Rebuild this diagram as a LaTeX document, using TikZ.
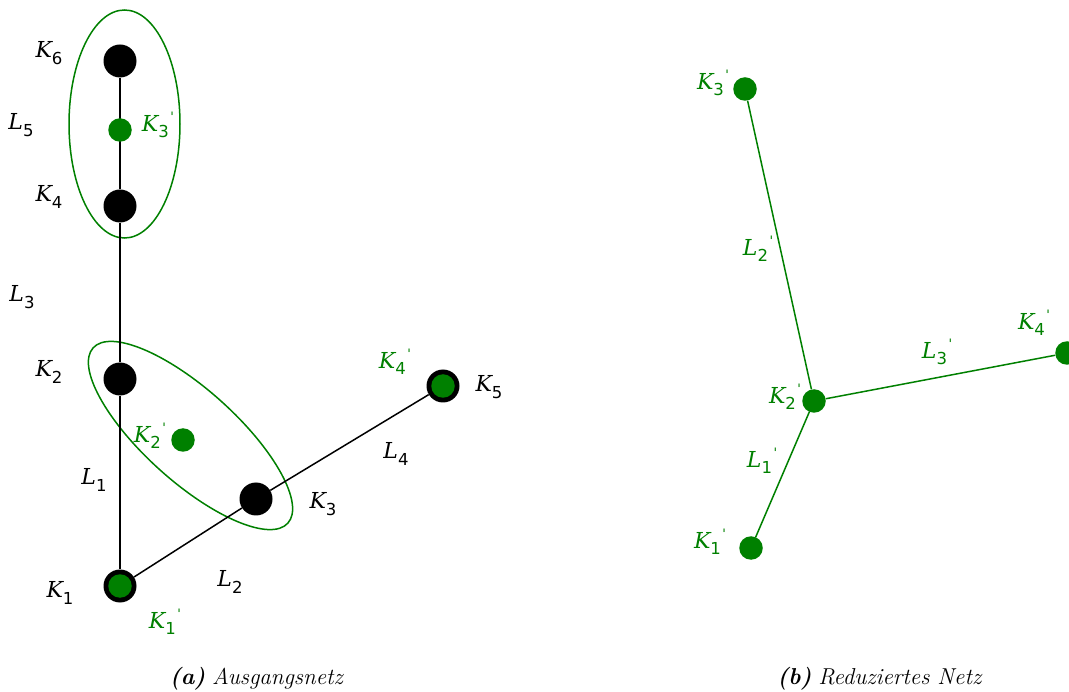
\documentclass[tikz,border=0pt]{standalone}
\usepackage{fontspec}
\newfontfamily\dvs{DejaVu Sans}
\newfontfamily\dvserif{DejaVu Serif}
\definecolor{mplgreen}{HTML}{008000}
\newcommand\lbl[2]{{\dvserif\fontsize{22}{22}\selectfont\itshape #1}\raisebox{-6.5pt}{\dvs\fontsize{16.5}{16.5}\selectfont #2}}
\newcommand\lblp[2]{{\dvserif\fontsize{22}{22}\selectfont\itshape #1}\raisebox{-6.5pt}{\dvs\fontsize{16.5}{16.5}\selectfont #2}\kern1.5pt\raisebox{10pt}{\dvs\fontsize{13}{13}\selectfont '}}
\begin{document}
\begin{tikzpicture}[x=1pt,y=-1pt,
  bigdot/.style={circle,fill=black,inner sep=0pt,minimum size=33pt},
  gdot/.style={circle,fill=mplgreen,inner sep=0pt,minimum size=23.5pt},
  blkline/.style={line width=1.5pt,black},
  gline/.style={line width=1.5pt,mplgreen},
  grp/.style={line width=1.5pt,mplgreen},
  lab/.style={inner sep=0pt},
  glab/.style={lab,text=mplgreen},
  captext/.style={inner sep=0pt,font=\fontsize{23}{27}\selectfont}]
\useasboundingbox (0,0) rectangle (1069,692);
% groups
\draw[grp] (124.5,124) ellipse [x radius=55.5, y radius=114];
\draw[grp,rotate around={-42:(190.5,435.5)}] (190.5,435.5) ellipse [x radius=131, y radius=46];
% nodes left
\node[bigdot] (k6) at (120,61) {};
\node[bigdot] (k4) at (120,206) {};
\node[bigdot] (k2) at (120,379) {};
\node[bigdot] (k3) at (256,499) {};
\node[bigdot] (k1) at (120,586) {};
\node[bigdot] (k5) at (443,386) {};
\draw[blkline] (k6) -- (k4);
\draw[blkline] (k4) -- (k2);
\draw[blkline] (k2) -- (k1);
\draw[blkline] (k1) -- (k3);
\draw[blkline] (k3) -- (k5);
\node[gdot] (k3g) at (120,130) {};
\node[gdot] (k2g) at (183,440) {};
\node[gdot] (k1g) at (120,586) {};
\node[gdot] (k5g) at (443,386) {};
% labels left
\node[lab] (lk6) at (49,53) {\lbl{K}{6}};
\node[lab] (ll5) at (21,125) {\lbl{L}{5}};
\node[glab] (lk3g) at (158,125) {\lblp{K}{3}};
\node[lab] (lk4) at (49,197) {\lbl{K}{4}};
\node[lab] (ll3) at (22,297) {\lbl{L}{3}};
\node[lab] (lk2) at (49,372) {\lbl{K}{2}};
\node[glab] (lk2g) at (150,436) {\lblp{K}{2}};
\node[lab] (ll1) at (94,480) {\lbl{L}{1}};
\node[lab] (lk3) at (323,504) {\lbl{K}{3}};
\node[lab] (lk1) at (60,593) {\lbl{K}{1}};
\node[lab] (ll2) at (230,582) {\lbl{L}{2}};
\node[glab] (lk1g) at (165,622) {\lblp{K}{1}};
\node[glab] (lk4g) at (395,362) {\lblp{K}{4}};
\node[lab] (lk5) at (489,387) {\lbl{K}{5}};
\node[lab] (ll4) at (396,454) {\lbl{L}{4}};
% right network
\node[gdot] (r3) at (745,89) {};
\node[gdot] (r2) at (814,401) {};
\node[gdot] (r4) at (1067,353) {};
\node[gdot] (r1) at (751,548) {};
\draw[gline] (r2) -- (r3);
\draw[gline] (r2) -- (r4);
\draw[gline] (r2) -- (r1);
\node[glab] (lr3) at (713,83) {\lblp{K}{3}};
\node[glab] (lr2) at (785,397) {\lblp{K}{2}};
\node[glab] (lr4) at (1034,323) {\lblp{K}{4}};
\node[glab] (lr1) at (710,542) {\lblp{K}{1}};
\node[glab] (lrl2) at (758,249) {\lblp{L}{2}};
\node[glab] (lrl3) at (937,352) {\lblp{L}{3}};
\node[glab] (lrl1) at (762,461) {\lblp{L}{1}};
% captions
\node[captext] (capa) at (257,679) {\textbf{\textit{(a)}}\ \textit{Ausgangsnetz}};
\node[captext] (capb) at (880,679) {\textbf{\textit{(b)}}\ \textit{Reduziertes Netz}};
\end{tikzpicture}
\end{document}
